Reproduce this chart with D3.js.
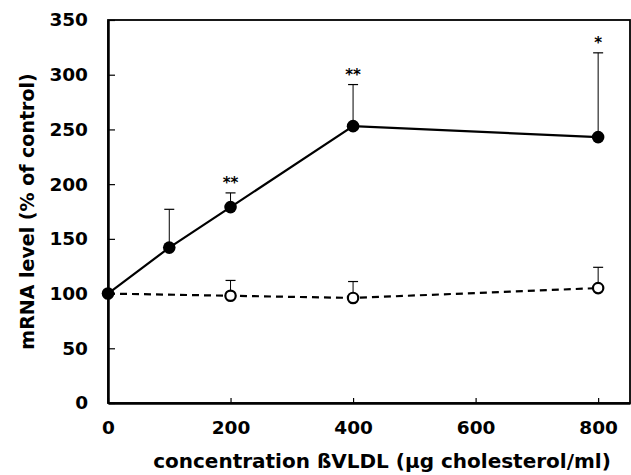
<!DOCTYPE html>
<html>
<head>
<meta charset="utf-8">
<script src="https://cdn.jsdelivr.net/npm/d3@7"></script>
<style>
  body { margin: 0; background: white; }
  text { font-family: "DejaVu Sans", Arial, sans-serif; font-weight: bold; }
</style>
</head>
<body>
<div id="plot"></div>
<script>
// data
const concentrations = [0, 100, 200, 400, 800];
const vldlValues = [100, 142, 179, 253, 243];
const vldlErrors = [0, 35, 13, 38, 77];
const vldlStars = ["", "", "**", "**", "*"];

const controlConc = [0, 200, 400, 800];
const controlValues = [100, 98, 96, 105];
const controlErrors = [0, 14, 15, 19];

const xTicks = [0, 200, 400, 600, 800];
const yTicks = [0, 50, 100, 150, 200, 250, 300, 350];

const w = 631;
const h = 475;
const margin = {top: 20, right: 1, bottom: 72, left: 108};

const svg = d3.select("div#plot")
  .append("svg")
  .attr("width", w)
  .attr("height", h);

svg.append("rect")
  .attr("width", w)
  .attr("height", h)
  .attr("fill", "white");

const xScale = d3.scaleLinear()
  .domain([0, 852])
  .range([margin.left, w - margin.right]);

const yScale = d3.scaleLinear()
  .domain([0, 350])
  .range([h - margin.bottom, margin.top]);

// frame
svg.append("rect")
  .attr("x", xScale(0))
  .attr("y", yScale(350))
  .attr("width", xScale(852) - xScale(0))
  .attr("height", yScale(0) - yScale(350))
  .attr("fill", "none")
  .attr("stroke", "black")
  .attr("stroke-width", 1.8);

// x axis
const xAxis = svg.append("g")
  .attr("transform", `translate(0,${yScale(0)})`)
  .call(d3.axisBottom(xScale).tickValues(xTicks).tickSizeInner(-5).tickSizeOuter(0).tickPadding(18));
xAxis.select(".domain").attr("stroke-width", 2.5);
xAxis.selectAll(".tick line").attr("stroke-width", 1.2);
xAxis.selectAll("text").attr("font-size", 18.5).attr("font-family", null).attr("fill", "black");

// y axis
const yAxis = svg.append("g")
  .attr("transform", `translate(${xScale(0)},0)`)
  .call(d3.axisLeft(yScale).tickValues(yTicks).tickSizeInner(-7).tickSizeOuter(0).tickPadding(20));
yAxis.select(".domain").attr("stroke-width", 2.5);
yAxis.selectAll(".tick line").attr("stroke-width", 1.2);
yAxis.selectAll("text").attr("font-size", 18.5).attr("font-family", null).attr("fill", "black");

// axis titles
svg.append("text")
  .attr("x", 382)
  .attr("y", 468)
  .attr("text-anchor", "middle")
  .attr("font-size", 20)
  .text("concentration ßVLDL (µg cholesterol/ml)");

svg.append("text")
  .attr("transform", `translate(34,${(yScale(0) + yScale(350)) / 2}) rotate(-90)`)
  .attr("text-anchor", "middle")
  .attr("font-size", 19)
  .text("mRNA level (% of control)");

const vldl = concentrations.map((c, i) => ({x: c, y: vldlValues[i], e: vldlErrors[i], s: vldlStars[i]}));
const control = controlConc.map((c, i) => ({x: c, y: controlValues[i], e: controlErrors[i]}));

const line = d3.line().x(d => xScale(d.x)).y(d => yScale(d.y));

// error bars (upper only)
function errorBars(data, cls) {
  const g = svg.append("g").attr("class", cls);
  const bars = g.selectAll("g").data(data.filter(d => d.e > 0)).enter().append("g");
  bars.append("line")
    .attr("x1", d => xScale(d.x)).attr("x2", d => xScale(d.x))
    .attr("y1", d => yScale(d.y)).attr("y2", d => yScale(d.y + d.e))
    .attr("stroke", "black").attr("stroke-width", 1);
  bars.append("line")
    .attr("x1", d => xScale(d.x) - 5).attr("x2", d => xScale(d.x) + 5)
    .attr("y1", d => yScale(d.y + d.e)).attr("y2", d => yScale(d.y + d.e))
    .attr("stroke", "black").attr("stroke-width", 1.2);
}
errorBars(control, "err-control");
errorBars(vldl, "err-vldl");

// control: dashed line, open circles
svg.append("path")
  .datum(control)
  .attr("d", line)
  .attr("fill", "none")
  .attr("stroke", "black")
  .attr("stroke-width", 2.2)
  .attr("stroke-dasharray", "7,5");

svg.selectAll(".open")
  .data(control.slice(1))
  .enter()
  .append("circle")
  .attr("class", "open")
  .attr("cx", d => xScale(d.x))
  .attr("cy", d => yScale(d.y))
  .attr("r", 5.2)
  .attr("fill", "white")
  .attr("stroke", "black")
  .attr("stroke-width", 2.2);

// βVLDL: solid line, filled circles
svg.append("path")
  .datum(vldl)
  .attr("d", line)
  .attr("fill", "none")
  .attr("stroke", "black")
  .attr("stroke-width", 2.2);

svg.selectAll(".filled")
  .data(vldl)
  .enter()
  .append("circle")
  .attr("class", "filled")
  .attr("cx", d => xScale(d.x))
  .attr("cy", d => yScale(d.y))
  .attr("r", 6.3)
  .attr("fill", "black");

// significance stars
svg.selectAll(".star")
  .data(vldl.filter(d => d.s))
  .enter()
  .append("text")
  .attr("class", "star")
  .attr("x", d => xScale(d.x))
  .attr("y", d => yScale(d.y + d.e) - 5)
  .attr("text-anchor", "middle")
  .attr("font-size", 15)
  .text(d => d.s);
</script>
</body>
</html>
